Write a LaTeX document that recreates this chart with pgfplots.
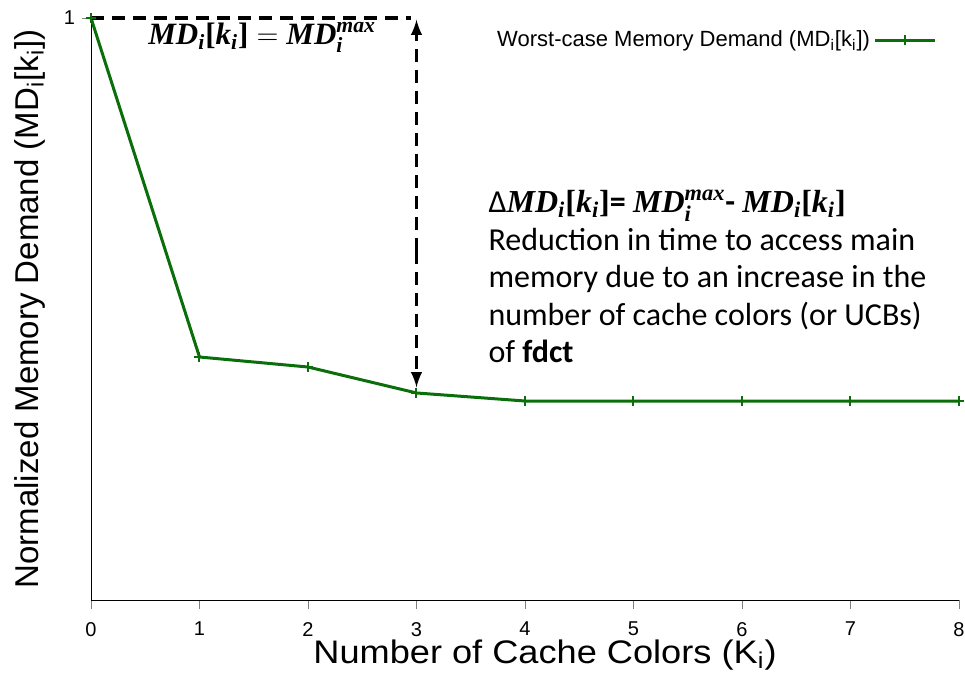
\documentclass[border=0pt]{standalone}
\usepackage{pgfplots}
\pgfplotsset{compat=1.18}
\usepackage{amsmath}
\usepackage{graphicx}
\usepackage{fontspec}
\setmainfont{Liberation Sans}
\newfontfamily\calibri{Carlito}
\newfontfamily\mathserif{Liberation Serif}
\definecolor{mdgreen}{RGB}{10,110,10}
% bold italic serif letters and upright serif brackets for the formulas
\newcommand\B[1]{\text{\mathserif\bfseries\itshape #1}}
\newcommand\R[1]{\text{\mathserif\bfseries #1}}
\newcommand\MDi{\B{MD}_{\B{i}}}
\newcommand\MDmax{\B{MD}_{\B{i}}^{\B{max}}}
\newcommand\ki{\R{[}\B{k}_{\B{i}}\R{]}}
\begin{document}
\begin{tikzpicture}
\path[use as bounding box] (-45.5pt,-36.5pt) rectangle (437pt,300pt);
\begin{axis}[
  at={(0pt,0pt)}, anchor=origin,
  scale only axis,
  width=434pt, height=291pt,
  xmin=0, xmax=8, ymin=0, ymax=1,
  axis lines*=left,
  xtick={0,1,...,8}, ytick={1},
  tick align=outside,
  major tick length=4.5pt,
  /pgf/number format/assume math mode=true,
  tick label style={font=\fontsize{10}{12}\selectfont},
  xticklabel style={yshift=-3pt},
  xlabel={\scalebox{1.11}[1]{Number of Cache Colors (K$_\mathrm{i}$)}},
  ylabel={Normalized Memory Demand (MD$_\mathrm{i}$[k$_\mathrm{i}$])},
  xlabel style={font=\fontsize{16.3}{19}\selectfont, at={(axis description cs:0.5,0)}, anchor=center, yshift=-27.5pt, xshift=10pt},
  ylabel style={font=\fontsize{16.5}{19}\selectfont},
  every axis y label/.append style={at={(-30.5pt,145.5pt)}, rotate=0, anchor=center},
  legend style={draw=none, fill=none, at={(0.982,0.962)}, anchor=east,
    font=\fontsize{11}{12}\selectfont, legend cell align=right},
  legend plot pos=right,
  legend image code/.code={
    \draw[#1, mark repeat=2, mark phase=2] plot coordinates {(0pt,0pt) (15pt,0pt) (30pt,0pt)};},
  clip=false,
]
\addplot[mdgreen, line width=1.5pt, mark=+, mark size=2.5pt,
  mark options={line width=1pt}] coordinates {
  (0,1) (1,0.4175) (2,0.4003) (3,0.3557) (4,0.3419) (5,0.3419) (6,0.3419) (7,0.3419) (8,0.3419)
};
\addlegendentry{Worst-case Memory Demand (MD$_\mathrm{i}$[k$_\mathrm{i}$])\hspace{4pt}}
% dashed guide from the maximum and the reduction arrow at three colours
\draw[black, line width=1.6pt, dash pattern=on 6.5pt off 4pt] (axis cs:0,1) -- (axis cs:2.95,1);
\draw[black, line width=1.6pt, dash pattern=on 6.5pt off 4pt, -latex, shorten >=1pt] (axis cs:3,0.6) -- (axis cs:3,0.362);
\draw[black, line width=1.6pt, dash pattern=on 6.5pt off 4pt, -latex] (axis cs:3,0.6) -- (axis cs:3,0.997);
\node[anchor=west, inner sep=0pt, font=\fontsize{15.5}{18}\selectfont] at (axis cs:0.525,0.966)
  {$\MDi\ki = \MDmax$};
\node[anchor=north west, inner sep=0pt, align=left,
  font=\calibri\fontsize{16}{18.75}\selectfont] at (axis cs:3.66,0.706) {%
  $\text{Δ}\MDi\ki$\textbf{=} $\MDmax$\textbf{-} $\MDi\ki$\\
  Reduction in time to access main\\
  memory due to an increase in the\\
  number of cache colors (or UCBs)\\
  of \textbf{fdct}};
\end{axis}
\end{tikzpicture}
\end{document}
